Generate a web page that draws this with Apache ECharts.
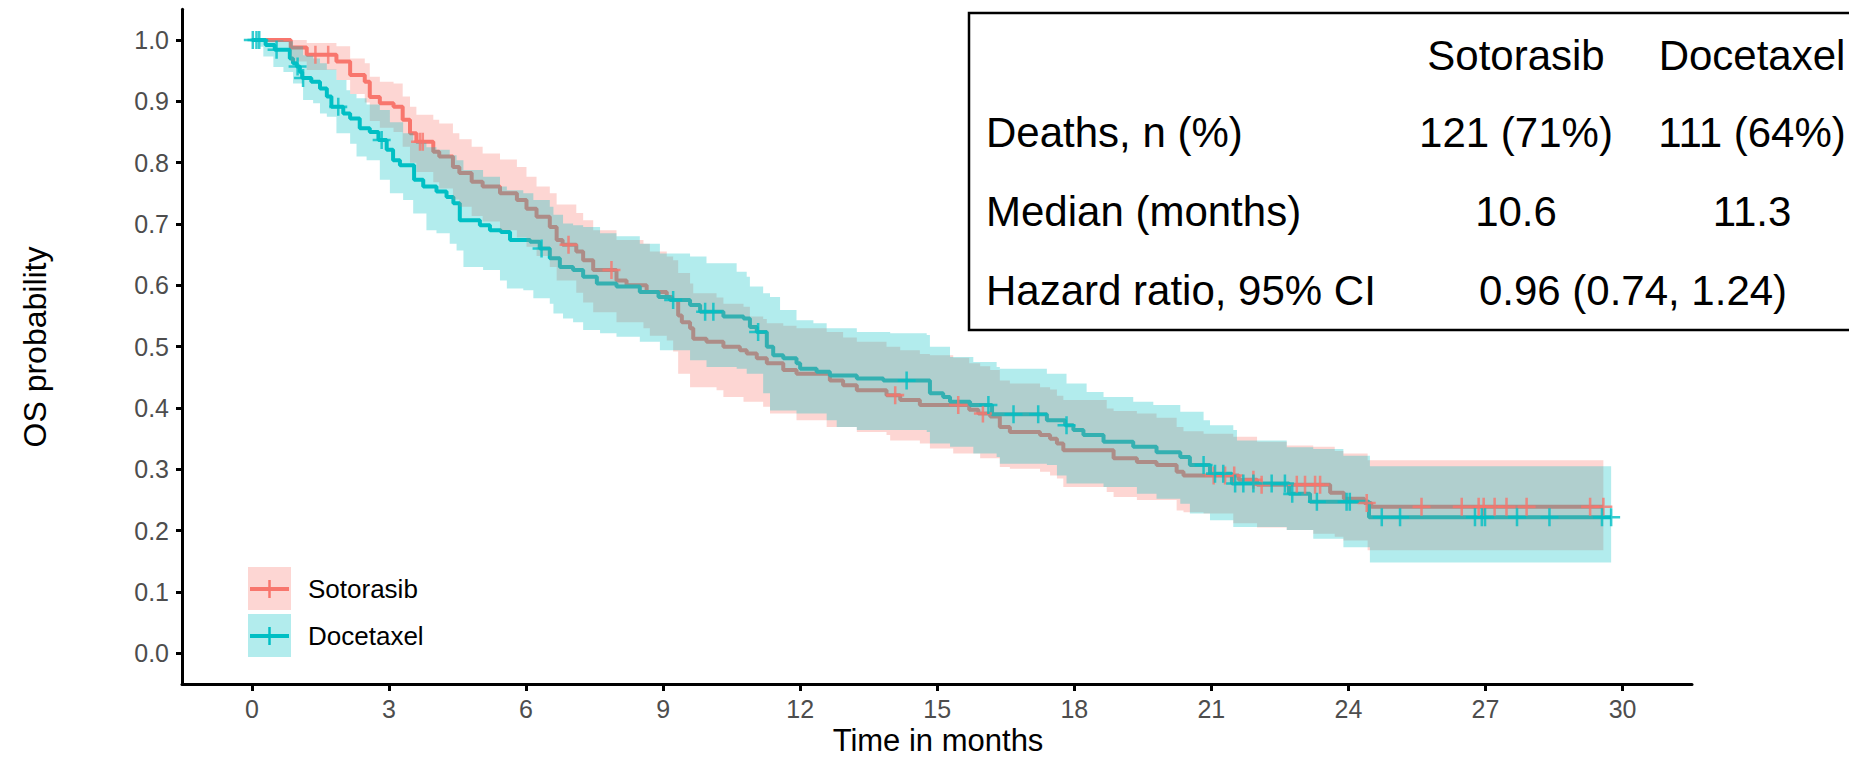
<!DOCTYPE html>
<html>
<head>
<meta charset="utf-8">
<script src="https://cdn.jsdelivr.net/npm/echarts@6/dist/echarts.min.js"></script>
<style>
  html, body { margin: 0; padding: 0; background: #ffffff; }
  #chart { width: 1849px; height: 758px; }
</style>
</head>
<body>
<div id="chart"></div>
<script>
// Kaplan-Meier overall survival: Sotorasib vs Docetaxel

const xTicks = [0, 3, 6, 9, 12, 15, 18, 21, 24, 27, 30];
const yTicks = [0, 0.1, 0.2, 0.3, 0.4, 0.5, 0.6, 0.7, 0.8, 0.9, 1.0];

// Step curves: [time (months), survival probability from that time on]
const sotorasibCurve = [
  [0, 1.0], [0.85, 0.988], [1.2, 0.976], [1.85, 0.965], [2.15, 0.943], [2.47, 0.932],
  [2.58, 0.907], [2.8, 0.897], [3.1, 0.891], [3.3, 0.870], [3.46, 0.848], [3.6, 0.834],
  [3.97, 0.818], [4.1, 0.810], [4.4, 0.793], [4.54, 0.783], [4.81, 0.769], [5.05, 0.761],
  [5.43, 0.750], [5.8, 0.739], [6.01, 0.725], [6.23, 0.712], [6.52, 0.695], [6.67, 0.674],
  [6.8, 0.666], [7.1, 0.655], [7.25, 0.641], [7.47, 0.625], [7.98, 0.608], [8.2, 0.600],
  [8.64, 0.589], [9.08, 0.581], [9.2, 0.576], [9.33, 0.551], [9.41, 0.540], [9.59, 0.530],
  [9.66, 0.513], [9.95, 0.508], [10.32, 0.500], [10.68, 0.494], [10.83, 0.489], [11.05, 0.481],
  [11.27, 0.473], [11.63, 0.462], [11.92, 0.456], [12.65, 0.445], [12.94, 0.437], [13.24, 0.429],
  [13.89, 0.421], [14.19, 0.413], [14.62, 0.405], [15.7, 0.397], [15.9, 0.391], [16.16, 0.386],
  [16.37, 0.369], [16.59, 0.361], [17.25, 0.356], [17.47, 0.350], [17.62, 0.342], [17.76, 0.331],
  [18.86, 0.318], [19.37, 0.312], [19.8, 0.307], [20.24, 0.296], [20.39, 0.290], [21.6, 0.283],
  [22.0, 0.275], [23.6, 0.262], [23.9, 0.252], [24.35, 0.245], [24.5, 0.239]
];
const sotorasibEnd = 29.58;

const docetaxelCurve = [
  [0, 1.0], [0.3, 0.992], [0.5, 0.984], [0.83, 0.970], [0.9, 0.962], [0.98, 0.957],
  [1.05, 0.948], [1.1, 0.938], [1.3, 0.932], [1.49, 0.921], [1.64, 0.908], [1.74, 0.891],
  [2.0, 0.880], [2.15, 0.872], [2.36, 0.856], [2.58, 0.850], [2.77, 0.837], [2.95, 0.821],
  [3.09, 0.804], [3.24, 0.796], [3.55, 0.772], [3.75, 0.761], [4.04, 0.753], [4.26, 0.744],
  [4.41, 0.734], [4.55, 0.706], [4.99, 0.698], [5.21, 0.690], [5.45, 0.687], [5.65, 0.674],
  [6.09, 0.671], [6.3, 0.660], [6.52, 0.644], [6.74, 0.630], [7.03, 0.625], [7.25, 0.614],
  [7.55, 0.603], [7.98, 0.598], [8.49, 0.589], [8.9, 0.581], [9.15, 0.576], [9.59, 0.568],
  [9.81, 0.557], [10.32, 0.549], [10.76, 0.546], [10.9, 0.532], [11.05, 0.524], [11.27, 0.500],
  [11.41, 0.486], [11.63, 0.481], [11.92, 0.473], [12.0, 0.464], [12.36, 0.459], [12.65, 0.453],
  [13.24, 0.448], [13.82, 0.445], [14.84, 0.424], [15.13, 0.418], [15.28, 0.410], [15.72, 0.405],
  [16.2, 0.390], [17.4, 0.380], [17.8, 0.372], [17.98, 0.364], [18.2, 0.356], [18.64, 0.345],
  [19.29, 0.337], [19.8, 0.328], [20.32, 0.320], [20.53, 0.307], [20.97, 0.293], [21.45, 0.277],
  [22.7, 0.260], [23.16, 0.247], [24.45, 0.222]
];
const docetaxelEnd = 29.75;

// Censored observations: [time, probability]
const sotorasibCensor = [
  [1.39, 0.976], [1.67, 0.976], [3.68, 0.834], [3.74, 0.834], [6.93, 0.666], [7.87, 0.625],
  [14.08, 0.421], [15.46, 0.405], [16.0, 0.391], [21.05, 0.290], [21.3, 0.290], [21.5, 0.290],
  [21.92, 0.283], [22.1, 0.275], [22.87, 0.275], [23.05, 0.275], [23.27, 0.275], [23.38, 0.275],
  [24.4, 0.245], [25.6, 0.239], [26.48, 0.239], [26.85, 0.239], [26.96, 0.239], [27.2, 0.239],
  [27.46, 0.239], [27.9, 0.239], [29.29, 0.239], [29.58, 0.239]
];
const docetaxelCensor = [
  [0.02, 1.0], [0.1, 1.0], [0.16, 1.0], [0.54, 0.984], [1.0, 0.957], [1.12, 0.938],
  [1.89, 0.891], [2.84, 0.837], [6.34, 0.660], [9.22, 0.576], [9.92, 0.557], [10.1, 0.557],
  [11.08, 0.524], [14.33, 0.445], [16.12, 0.405], [16.67, 0.390], [17.21, 0.390], [17.83, 0.372],
  [20.83, 0.307], [21.08, 0.293], [21.26, 0.293], [21.52, 0.277], [21.7, 0.277], [21.92, 0.277],
  [22.32, 0.277], [22.61, 0.277], [22.77, 0.260], [23.31, 0.247], [23.96, 0.247], [24.03, 0.247],
  [24.73, 0.222], [25.13, 0.222], [26.77, 0.222], [26.92, 0.222], [26.99, 0.222], [27.69, 0.222],
  [28.4, 0.222], [29.55, 0.222], [29.75, 0.222]
];

// 95% confidence bands: [time, lower, upper]
const sotorasibCI = [
  [0, 1.0, 1.0], [0.85, 0.965, 1.0], [1.2, 0.951, 0.995], [1.85, 0.935, 0.990], [2.15, 0.912, 0.970],
  [2.47, 0.898, 0.962], [2.58, 0.868, 0.940], [2.8, 0.857, 0.932], [3.1, 0.850, 0.929], [3.3, 0.826, 0.908],
  [3.46, 0.800, 0.891], [3.6, 0.785, 0.878], [3.97, 0.768, 0.870], [4.1, 0.758, 0.864], [4.4, 0.740, 0.848],
  [4.54, 0.728, 0.838], [4.81, 0.713, 0.826], [5.05, 0.704, 0.815], [5.43, 0.690, 0.805], [5.8, 0.678, 0.793],
  [6.01, 0.663, 0.777], [6.23, 0.648, 0.761], [6.52, 0.630, 0.750], [6.67, 0.608, 0.732], [7.1, 0.588, 0.718],
  [7.25, 0.572, 0.706], [7.47, 0.556, 0.690], [7.98, 0.540, 0.674], [8.57, 0.530, 0.668], [8.71, 0.518, 0.655],
  [9.08, 0.510, 0.647], [9.22, 0.492, 0.641], [9.33, 0.456, 0.620], [9.59, 0.434, 0.603], [9.66, 0.434, 0.587],
  [10.17, 0.429, 0.580], [10.32, 0.418, 0.570], [10.76, 0.410, 0.565], [10.9, 0.410, 0.549], [11.19, 0.402, 0.545],
  [11.27, 0.402, 0.538], [11.34, 0.391, 0.538], [11.63, 0.391, 0.534], [11.92, 0.380, 0.530], [12.58, 0.369, 0.524],
  [12.94, 0.369, 0.515], [13.24, 0.361, 0.508], [13.89, 0.356, 0.500], [13.97, 0.347, 0.500], [14.19, 0.347, 0.494],
  [14.62, 0.342, 0.488], [14.84, 0.334, 0.486], [15.35, 0.326, 0.482], [15.7, 0.326, 0.473], [15.94, 0.318, 0.468],
  [16.16, 0.318, 0.462], [16.37, 0.304, 0.445], [16.59, 0.301, 0.440], [17.25, 0.296, 0.434], [17.47, 0.290, 0.430],
  [17.62, 0.285, 0.420], [17.76, 0.271, 0.413], [18.71, 0.263, 0.399], [18.86, 0.255, 0.395], [19.37, 0.250, 0.391],
  [19.8, 0.250, 0.384], [20.24, 0.233, 0.369], [20.39, 0.230, 0.362], [20.83, 0.228, 0.358], [21.48, 0.212, 0.353],
  [22.0, 0.205, 0.345], [22.65, 0.201, 0.339], [23.23, 0.195, 0.337], [23.7, 0.190, 0.330], [23.89, 0.184, 0.326],
  [24.42, 0.168, 0.315]
];
const docetaxelCI = [
  [0, 1.0, 1.0], [0.18, 0.989, 1.0], [0.25, 0.973, 1.0], [0.47, 0.956, 1.0], [0.69, 0.948, 0.998],
  [0.9, 0.929, 0.990], [1.12, 0.902, 0.975], [1.34, 0.897, 0.970], [1.49, 0.880, 0.962], [1.64, 0.875, 0.952],
  [1.85, 0.848, 0.935], [2.07, 0.848, 0.918], [2.15, 0.831, 0.912], [2.29, 0.810, 0.905], [2.51, 0.804, 0.895],
  [2.8, 0.772, 0.886], [3.02, 0.750, 0.866], [3.31, 0.739, 0.848], [3.53, 0.717, 0.835], [3.82, 0.690, 0.825],
  [4.04, 0.685, 0.821], [4.33, 0.668, 0.812], [4.48, 0.657, 0.804], [4.63, 0.630, 0.788], [5.06, 0.625, 0.777],
  [5.43, 0.608, 0.761], [5.58, 0.595, 0.755], [5.94, 0.592, 0.750], [6.16, 0.579, 0.739], [6.52, 0.570, 0.728],
  [6.6, 0.554, 0.715], [6.81, 0.546, 0.701], [7.03, 0.540, 0.698], [7.25, 0.527, 0.695], [7.62, 0.522, 0.685],
  [7.98, 0.516, 0.680], [8.49, 0.508, 0.668], [8.93, 0.494, 0.652], [9.59, 0.478, 0.647], [9.95, 0.467, 0.636],
  [10.61, 0.464, 0.622], [10.83, 0.456, 0.614], [10.9, 0.456, 0.598], [11.19, 0.424, 0.587], [11.34, 0.396, 0.581],
  [11.56, 0.396, 0.560], [11.92, 0.391, 0.543], [12.29, 0.391, 0.538], [12.58, 0.380, 0.530], [12.8, 0.369, 0.530],
  [13.24, 0.364, 0.524], [13.97, 0.364, 0.522], [14.77, 0.361, 0.519], [14.84, 0.342, 0.500], [15.28, 0.337, 0.483],
  [15.79, 0.326, 0.475], [16.3, 0.320, 0.467], [16.37, 0.309, 0.464], [17.4, 0.307, 0.456], [17.62, 0.290, 0.456],
  [17.83, 0.277, 0.440], [18.27, 0.277, 0.426], [18.64, 0.271, 0.418], [19.29, 0.271, 0.410], [19.37, 0.260, 0.410],
  [19.73, 0.260, 0.405], [19.8, 0.252, 0.405], [20.32, 0.244, 0.394], [20.53, 0.228, 0.394], [20.83, 0.228, 0.380],
  [20.97, 0.217, 0.372], [21.48, 0.206, 0.364], [21.56, 0.206, 0.347], [22.65, 0.201, 0.336], [23.23, 0.187, 0.333],
  [23.89, 0.173, 0.322], [24.47, 0.148, 0.305]
];

const tableHeader = ['Sotorasib', 'Docetaxel'];
const tableRows = [
  ['Deaths, n (%)', '121 (71%)', '111 (64%)'],
  ['Median (months)', '10.6', '11.3']
];
const hazardRow = ['Hazard ratio, 95% CI', '0.96 (0.74, 1.24)'];

const RED = '#F8766D';
const TEAL = '#00BFC4';
const RED_FILL = 'rgba(248,118,109,0.3)';
const TEAL_FILL = 'rgba(0,191,196,0.3)';
const FONT = '"Liberation Sans", Arial, Helvetica, sans-serif';
const CROSS = 'path://M4.3,0H5.7V4.3H10V5.7H5.7V10H4.3V5.7H0V4.3H4.3Z';

function withEnd(curve, tEnd) {
  return curve.concat([[tEnd, curve[curve.length - 1][1]]]);
}

// Confidence band as one step-shaped polygon
function bandSeries(name, ci, tEnd, fill) {
  return {
    type: 'custom', name: name, z: 3, silent: true,
    data: ci,
    renderItem: function (params, api) {
      if (params.dataIndex !== 0) return null;
      const upper = [], lower = [];
      for (let i = 0; i < ci.length; i++) {
        const t0 = ci[i][0];
        const t1 = i + 1 < ci.length ? ci[i + 1][0] : tEnd;
        upper.push(api.coord([t0, ci[i][2]]), api.coord([t1, ci[i][2]]));
        lower.push(api.coord([t0, ci[i][1]]), api.coord([t1, ci[i][1]]));
      }
      return { type: 'polygon', shape: { points: upper.concat(lower.reverse()) }, style: { fill: fill } };
    }
  };
}

function curveSeries(name, curve, tEnd, color) {
  return {
    type: 'line', name: name, step: 'end', z: 2, silent: true,
    data: withEnd(curve, tEnd), symbol: 'none',
    lineStyle: { color: color, width: 4 }
  };
}

function censorSeries(name, pts, color) {
  return {
    type: 'scatter', name: name, z: 4, silent: true,
    data: pts, symbol: CROSS, symbolSize: 18,
    itemStyle: { color: color }
  };
}

// Legend keys and summary table
const graphics = [];
const legendItems = [
  { label: 'Sotorasib', color: RED, fill: RED_FILL, y: 567 },
  { label: 'Docetaxel', color: TEAL, fill: TEAL_FILL, y: 614 }
];
legendItems.forEach(function (it) {
  const cy = it.y + 22;
  graphics.push({ type: 'rect', left: 248, top: it.y, shape: { width: 43, height: 43 }, style: { fill: it.fill }, z: 10 });
  graphics.push({ type: 'line', shape: { x1: 250, y1: cy, x2: 289, y2: cy }, style: { stroke: it.color, lineWidth: 4 }, z: 11 });
  graphics.push({ type: 'line', shape: { x1: 269.5, y1: cy - 9, x2: 269.5, y2: cy + 9 }, style: { stroke: it.color, lineWidth: 2.5 }, z: 11 });
  graphics.push({ type: 'text', x: 308, y: cy, style: { text: it.label, fill: '#000', font: '26px ' + FONT, textVerticalAlign: 'middle', textAlign: 'left' }, z: 11 });
});

graphics.push({ type: 'rect', shape: { x: 969, y: 13, width: 900, height: 317 }, style: { fill: '#fff', stroke: '#000', lineWidth: 2.5 }, z: 20 });
const colX = [1516, 1752];
const rowY = [132, 211];
const tfont = '42px ' + FONT;
tableHeader.forEach(function (h, i) {
  graphics.push({ type: 'text', x: colX[i], y: 55, style: { text: h, fill: '#000', font: tfont, textAlign: 'center', textVerticalAlign: 'middle' }, z: 21 });
});
tableRows.forEach(function (row, r) {
  graphics.push({ type: 'text', x: 986, y: rowY[r], style: { text: row[0], fill: '#000', font: tfont, textAlign: 'left', textVerticalAlign: 'middle' }, z: 21 });
  graphics.push({ type: 'text', x: colX[0], y: rowY[r], style: { text: row[1], fill: '#000', font: tfont, textAlign: 'center', textVerticalAlign: 'middle' }, z: 21 });
  graphics.push({ type: 'text', x: colX[1], y: rowY[r], style: { text: row[2], fill: '#000', font: tfont, textAlign: 'center', textVerticalAlign: 'middle' }, z: 21 });
});
graphics.push({ type: 'text', x: 986, y: 290, style: { text: hazardRow[0], fill: '#000', font: tfont, textAlign: 'left', textVerticalAlign: 'middle' }, z: 21 });
graphics.push({ type: 'text', x: 1633, y: 290, style: { text: hazardRow[1], fill: '#000', font: tfont, textAlign: 'center', textVerticalAlign: 'middle' }, z: 21 });

// Axis titles
graphics.push({ type: 'text', x: 938, y: 740, style: { text: 'Time in months', fill: '#000', font: '31px ' + FONT, textAlign: 'center', textVerticalAlign: 'middle' }, z: 11 });
graphics.push({ type: 'text', x: 35, y: 347, rotation: Math.PI / 2, style: { text: 'OS probability', fill: '#000', font: '32px ' + FONT, textAlign: 'center', textVerticalAlign: 'middle' }, z: 11 });

const chart = echarts.init(document.getElementById('chart'), null, { renderer: 'svg' });
chart.setOption({
  animation: false,
  backgroundColor: '#ffffff',
  grid: { left: 182, right: 157, top: 9.35, bottom: 74, containLabel: false },
  xAxis: {
    type: 'value', min: -1.53, max: 31.52,
    axisLine: { show: true, onZero: false, lineStyle: { color: '#000', width: 3 } },
    axisTick: { show: true, customValues: xTicks, length: 7, lineStyle: { color: '#000', width: 3 } },
    axisLabel: { customValues: xTicks, color: '#4D4D4D', fontSize: 25, fontFamily: FONT, margin: 12 },
    splitLine: { show: false }
  },
  yAxis: {
    type: 'value', min: -0.05, max: 1.05,
    axisLine: { show: true, onZero: false, lineStyle: { color: '#000', width: 3 } },
    axisTick: { show: true, customValues: yTicks, length: 6, lineStyle: { color: '#000', width: 3 } },
    axisLabel: { customValues: yTicks, color: '#4D4D4D', fontSize: 25, fontFamily: FONT, margin: 13,
      formatter: function (v) { return v.toFixed(1); } },
    splitLine: { show: false }
  },
  series: [
    curveSeries('Sotorasib', sotorasibCurve, sotorasibEnd, RED),
    curveSeries('Docetaxel', docetaxelCurve, docetaxelEnd, TEAL),
    bandSeries('Sotorasib CI', sotorasibCI, sotorasibEnd, RED_FILL),
    bandSeries('Docetaxel CI', docetaxelCI, docetaxelEnd, TEAL_FILL),
    censorSeries('Sotorasib censored', sotorasibCensor, RED),
    censorSeries('Docetaxel censored', docetaxelCensor, TEAL)
  ],
  graphic: graphics
});
</script>
</body>
</html>
